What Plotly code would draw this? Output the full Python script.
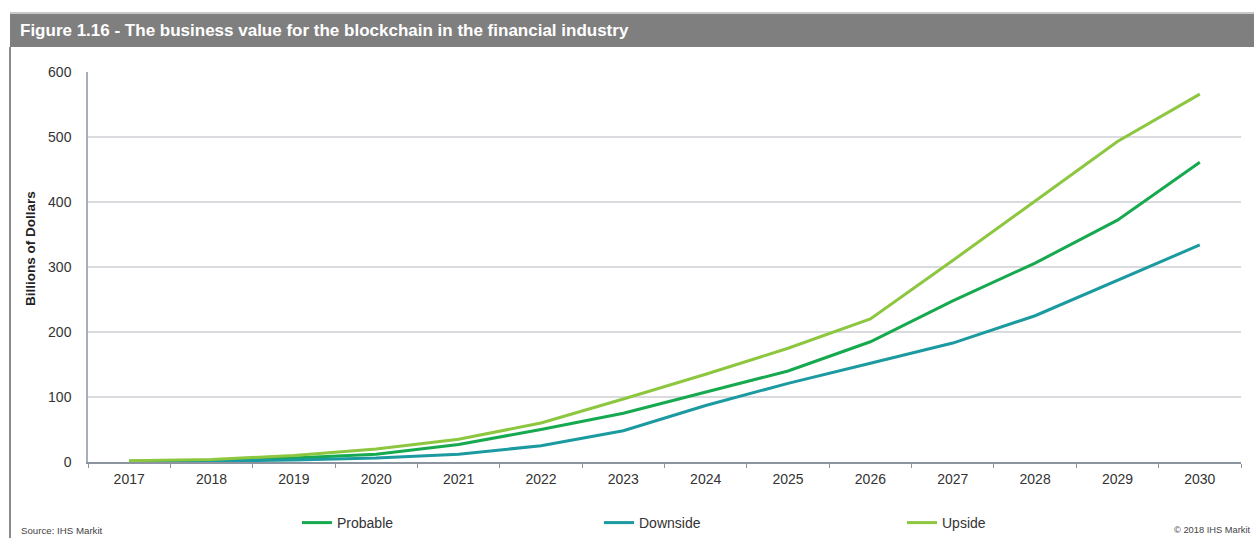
import plotly.graph_objects as go

years = ["2017", "2018", "2019", "2020", "2021", "2022", "2023", "2024",
         "2025", "2026", "2027", "2028", "2029", "2030"]
probable = [1, 2, 6, 12, 27, 50, 75, 107, 140, 185, 248, 306, 372, 461]
downside = [0, 1, 3, 6, 12, 25, 48, 87, 121, 152, 183, 225, 280, 334]
upside = [2, 4, 10, 20, 35, 60, 97, 135, 175, 220, 310, 402, 493, 566]
y_ticks = [0, 100, 200, 300, 400, 500, 600]

W, H = 1254, 538
L, R, T, B = 88, 13, 72, 76
PW, PH = W - L - R, H - T - B


def px(x):
    return (x - L) / PW


def py(y):
    return (H - B - y) / PH


font = "Liberation Sans, Arial, sans-serif"
fig = go.Figure()
series = [("Probable", probable, "#17A94F", "legend", 297),
          ("Downside", downside, "#1B9AA0", "legend2", 599),
          ("Upside", upside, "#8DC63F", "legend3", 902)]
for name, vals, col, lg, _ in series:
    fig.add_trace(go.Scatter(x=years, y=vals, name=name, mode="lines",
                             line=dict(color=col, width=3), legend=lg))

legend_common = dict(orientation="h", yanchor="middle", xanchor="left",
                     font=dict(size=14, color="#333333", family=font),
                     bgcolor="rgba(0,0,0,0)", itemwidth=30)
legends = {}
for name, vals, col, lg, xpos in series:
    legends[lg] = dict(legend_common, x=px(xpos), y=py(523))

fig.update_layout(
    width=W, height=H,
    margin=dict(l=L, r=R, t=T, b=B, autoexpand=False),
    paper_bgcolor="white", plot_bgcolor="white",
    font=dict(family=font, size=12, color="#333333"),
    showlegend=True,
    xaxis=dict(type="category", range=[-0.5, 13.5], tickson="boundaries",
               ticks="outside", ticklen=4, tickcolor="#8C94A0",
               showline=True, linecolor="#8C94A0", linewidth=1.5,
               showgrid=False, ticklabelstandoff=3,
               tickfont=dict(size=14, color="#333333")),
    yaxis=dict(range=[0, 600], tickvals=y_ticks, showgrid=True, gridcolor="#DADBDE",
               gridwidth=1.5, showline=True, linecolor="#A8AEB6", linewidth=1.5,
               zeroline=False, ticks="", ticklabelstandoff=12,
               tickfont=dict(size=14, color="#333333")),
    **legends,
)

# title bar
fig.add_shape(type="rect", xref="paper", yref="paper",
              x0=px(10), x1=px(1254), y0=py(47), y1=py(13),
              fillcolor="#7F7F7F", line=dict(width=0), layer="below")
fig.add_shape(type="line", xref="paper", yref="paper",
              x0=px(10), x1=px(1254), y0=py(13), y1=py(13),
              line=dict(color="#C8C8C8", width=2))
# left border
fig.add_shape(type="line", xref="paper", yref="paper",
              x0=px(10), x1=px(10), y0=py(47), y1=py(538),
              line=dict(color="#8A8A8A", width=2))

fig.add_annotation(text="<b>Figure 1.16 - The business value for the blockchain in the financial industry</b>",
                   xref="paper", yref="paper", x=px(18), y=py(31), xanchor="left", yanchor="middle",
                   showarrow=False, font=dict(size=17, color="white", family=font))
fig.add_annotation(text="<b>Billions of Dollars</b>", textangle=-90,
                   xref="paper", yref="paper", x=px(30), y=py(249), xanchor="center", yanchor="middle",
                   showarrow=False, font=dict(size=13.5, color="#222222", family=font))
fig.add_annotation(text="Source: IHS Markit",
                   xref="paper", yref="paper", x=px(19), y=py(530), xanchor="left", yanchor="middle",
                   showarrow=False, font=dict(size=9.7, color="#444444", family=font))
fig.add_annotation(text="© 2018 IHS Markit",
                   xref="paper", yref="paper", x=px(1253), y=py(530), xanchor="right", yanchor="middle",
                   showarrow=False, font=dict(size=9.3, color="#444444", family=font))

fig.write_html("out.html", config={"displayModeBar": False},
               post_script="document.body.style.margin='0';")
